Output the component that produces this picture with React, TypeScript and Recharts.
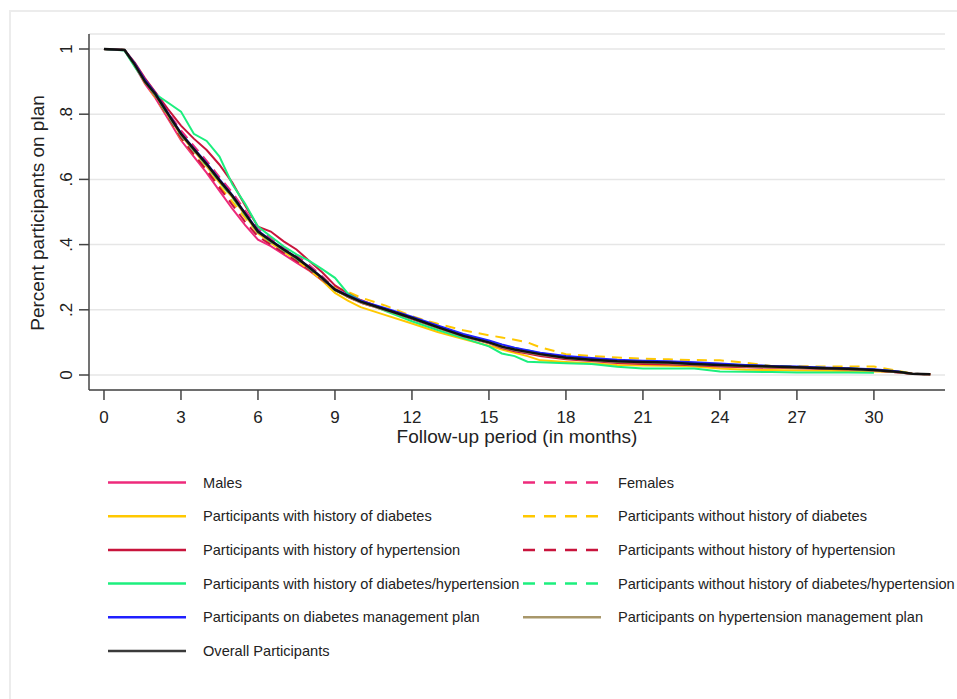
import React from "react";
import { LineChart, Line, XAxis, YAxis, CartesianGrid, Label } from "recharts";

// follow-up time (months)
const months = [0, 0.8, 1.2, 1.6, 2, 2.5, 3, 3.5, 4, 4.5, 5, 5.5, 6, 6.5, 7, 7.5, 8, 8.5, 9, 9.5, 10, 11, 12, 13, 14, 15, 15.5, 16, 16.5, 17, 18, 19, 20, 21, 22, 23, 24, 25, 26, 27, 28, 29, 30, 31, 31.5, 32.2];

const males = [1, 0.997, 0.948, 0.893, 0.85, 0.785, 0.72, 0.67, 0.62, 0.565, 0.51, 0.46, 0.415, 0.395, 0.37, 0.345, 0.32, 0.29, 0.262, 0.24, 0.222, 0.198, 0.172, 0.145, 0.118, 0.098, 0.086, 0.077, 0.07, 0.063, 0.052, 0.046, 0.041, 0.038, 0.036, 0.033, 0.03, 0.027, 0.025, 0.023, 0.02, 0.018, 0.014, 0.008, 0.004, 0.002];
const females = [1, 0.997, 0.955, 0.905, 0.866, 0.805, 0.75, 0.703, 0.657, 0.607, 0.56, 0.505, 0.448, 0.42, 0.392, 0.367, 0.337, 0.303, 0.265, 0.245, 0.227, 0.202, 0.177, 0.149, 0.122, 0.102, 0.089, 0.08, 0.073, 0.065, 0.054, 0.048, 0.043, 0.041, 0.039, 0.035, 0.032, 0.029, 0.027, 0.025, 0.022, 0.02, 0.016, 0.01, 0.004, 0.002];
const withDiabetes = [1, 0.997, 0.955, 0.902, 0.86, 0.795, 0.735, 0.688, 0.64, 0.59, 0.545, 0.49, 0.435, 0.405, 0.378, 0.352, 0.322, 0.29, 0.252, 0.228, 0.208, 0.183, 0.158, 0.132, 0.11, 0.09, 0.078, 0.068, 0.058, 0.045, 0.04, 0.036, 0.031, 0.029, 0.028, 0.026, 0.02, 0.016, 0.015, 0.014, 0.013, 0.012, 0.011, 0.009, 0.004, 0.002];
const withoutDiabetes = [1, 0.997, 0.95, 0.895, 0.852, 0.79, 0.725, 0.677, 0.63, 0.58, 0.532, 0.482, 0.435, 0.407, 0.382, 0.357, 0.327, 0.297, 0.27, 0.255, 0.238, 0.212, 0.18, 0.157, 0.137, 0.122, 0.115, 0.108, 0.1, 0.085, 0.064, 0.058, 0.054, 0.05, 0.048, 0.046, 0.045, 0.038, 0.028, 0.027, 0.026, 0.026, 0.026, 0.012, 0.004, null];
const withHyp = [1, 0.997, 0.958, 0.91, 0.868, 0.815, 0.765, 0.725, 0.69, 0.645, 0.59, 0.52, 0.455, 0.44, 0.41, 0.385, 0.35, 0.315, 0.275, 0.25, 0.23, 0.2, 0.172, 0.145, 0.12, 0.098, 0.083, 0.073, 0.066, 0.058, 0.048, 0.043, 0.037, 0.034, 0.032, 0.03, 0.026, 0.024, 0.022, 0.021, 0.019, 0.017, 0.014, 0.008, 0.003, 0.002];
const withoutHyp = [1, 0.997, 0.95, 0.897, 0.855, 0.79, 0.727, 0.677, 0.628, 0.575, 0.522, 0.47, 0.425, 0.4, 0.375, 0.35, 0.322, 0.292, 0.262, 0.24, 0.222, 0.198, 0.174, 0.147, 0.12, 0.1, 0.088, 0.079, 0.072, 0.064, 0.054, 0.048, 0.043, 0.039, 0.037, 0.034, 0.03, 0.027, 0.025, 0.023, 0.021, 0.019, 0.015, 0.009, 0.004, 0.002];
const withBoth = [1, 0.995, 0.945, 0.9, 0.862, 0.835, 0.808, 0.74, 0.718, 0.67, 0.585, 0.525, 0.455, 0.425, 0.395, 0.37, 0.35, 0.325, 0.298, 0.25, 0.228, 0.195, 0.165, 0.138, 0.113, 0.088, 0.066, 0.058, 0.041, 0.039, 0.036, 0.034, 0.025, 0.02, 0.02, 0.02, 0.011, 0.01, 0.009, 0.008, 0.008, 0.008, 0.007, null, null, null];
const withoutBoth = [1, 0.997, 0.953, 0.898, 0.858, 0.795, 0.735, 0.688, 0.642, 0.592, 0.545, 0.49, 0.437, 0.408, 0.382, 0.357, 0.327, 0.296, 0.26, 0.242, 0.225, 0.201, 0.177, 0.15, 0.124, 0.104, 0.092, 0.083, 0.076, 0.067, 0.056, 0.05, 0.045, 0.042, 0.04, 0.037, 0.033, 0.03, 0.028, 0.025, 0.022, 0.02, 0.017, 0.01, 0.004, 0.002];
const diabetesPlan = [1, 0.997, 0.955, 0.905, 0.865, 0.803, 0.742, 0.695, 0.65, 0.6, 0.552, 0.497, 0.443, 0.413, 0.386, 0.361, 0.331, 0.299, 0.263, 0.245, 0.228, 0.204, 0.179, 0.152, 0.126, 0.106, 0.094, 0.084, 0.076, 0.068, 0.058, 0.052, 0.047, 0.044, 0.042, 0.039, 0.035, 0.031, 0.028, 0.026, 0.023, 0.021, 0.018, 0.011, null, null];
const hypPlan = [1, 0.997, 0.95, 0.898, 0.86, 0.797, 0.737, 0.69, 0.644, 0.594, 0.547, 0.492, 0.438, 0.41, 0.383, 0.358, 0.328, 0.297, 0.26, 0.24, 0.222, 0.198, 0.173, 0.145, 0.118, 0.098, 0.085, 0.076, 0.069, 0.062, 0.051, 0.045, 0.04, 0.038, 0.036, 0.032, 0.029, 0.026, 0.024, 0.022, 0.02, 0.018, 0.014, 0.008, 0.003, 0.002];
const overall = [1, 0.997, 0.952, 0.9, 0.862, 0.8, 0.74, 0.693, 0.647, 0.597, 0.55, 0.495, 0.44, 0.412, 0.385, 0.36, 0.33, 0.298, 0.262, 0.243, 0.225, 0.2, 0.175, 0.147, 0.12, 0.1, 0.087, 0.078, 0.071, 0.064, 0.053, 0.047, 0.042, 0.04, 0.038, 0.034, 0.031, 0.028, 0.026, 0.024, 0.021, 0.019, 0.015, 0.009, 0.004, 0.002];

const xTicks = [0, 3, 6, 9, 12, 15, 18, 21, 24, 27, 30];
const yTicks = [0, 0.2, 0.4, 0.6, 0.8, 1];

const series = [
  { key: "males", name: "Males", values: males, color: "#ee2a7b", dashed: false, width: 2 },
  { key: "females", name: "Females", values: females, color: "#ee2a7b", dashed: true, width: 2 },
  { key: "withDiabetes", name: "Participants with history of diabetes", values: withDiabetes, color: "#ffc800", dashed: false, width: 2 },
  { key: "withoutDiabetes", name: "Participants without history of diabetes", values: withoutDiabetes, color: "#ffc800", dashed: true, width: 2 },
  { key: "withHyp", name: "Participants with history of hypertension", values: withHyp, color: "#c8143c", dashed: false, width: 2 },
  { key: "withoutHyp", name: "Participants without history of hypertension", values: withoutHyp, color: "#c8143c", dashed: true, width: 2 },
  { key: "withBoth", name: "Participants with history of diabetes/hypertension", values: withBoth, color: "#1cef7e", dashed: false, width: 2 },
  { key: "withoutBoth", name: "Participants without history of diabetes/hypertension", values: withoutBoth, color: "#1cef7e", dashed: true, width: 2 },
  { key: "diabetesPlan", name: "Participants on diabetes management plan", values: diabetesPlan, color: "#2020ff", dashed: false, width: 2 },
  { key: "hypPlan", name: "Participants on hypertension management plan", values: hypPlan, color: "#a8976a", dashed: false, width: 2 },
  { key: "overall", name: "Overall Participants", values: overall, color: "#111111", dashed: false, width: 2.5 },
];

const legendLeft = ["males", "withDiabetes", "withHyp", "withBoth", "diabetesPlan", "overall"];
const legendRight = ["females", "withoutDiabetes", "withoutHyp", "withoutBoth", "hypPlan"];

const font = "'Liberation Sans', Arial, sans-serif";

const fmtY = (v: number) => (v === 0 ? "0" : v === 1 ? "1" : "." + Math.round(v * 10));

const YTick = (props: any) => {
  const { x, y, payload } = props;
  return (
    <text x={x} y={y} transform={`rotate(-90 ${x} ${y})`} textAnchor="middle" fill="#222" fontSize={17} fontFamily={font}>
      {fmtY(payload.value)}
    </text>
  );
};

export default function App() {
  const rows = months.map((t, i) => {
    const r: any = { t };
    series.forEach((s) => (r[s.key] = s.values[i]));
    return r;
  });

  const legendItem = (key: string, i: number, lx: number, tx: number) => {
    const s = series.find((d) => d.key === key)!;
    const y = 482.5 + i * 33.7;
    return (
      <g key={key}>
        <line
          x1={lx}
          x2={lx + 78}
          y1={y}
          y2={y}
          stroke={key === "overall" ? "#3a3a3a" : s.color}
          strokeWidth={2.5}
          strokeDasharray={s.dashed ? "12 9" : undefined}
        />
        <text x={tx} y={y} dy="0.35em" fontSize={14.6} fill="#222" fontFamily={font}>
          {s.name}
        </text>
      </g>
    );
  };

  return (
    <div style={{ position: "absolute", left: 0, top: 0, width: 957, height: 699, background: "#fff", overflow: "hidden" }}>
      <div style={{ position: "absolute", left: 9, top: 10, width: 960, height: 700, border: "2px solid #ececec", boxSizing: "border-box" }} />
      <div style={{ position: "absolute", left: 0, top: 0 }}>
        <LineChart width={957} height={450} data={rows} margin={{ top: 34, right: 12, bottom: 0, left: 0 }}>
          <CartesianGrid vertical={false} stroke="#e6e6e6" strokeWidth={1.5} />
          <XAxis
            dataKey="t"
            type="number"
            domain={[-0.584, 32.77]}
            ticks={xTicks}
            interval={0}
            allowDataOverflow
            height={60}
            tickSize={10}
            tickMargin={11}
            stroke="#444"
            strokeWidth={1.5}
            tick={{ fill: "#222", fontSize: 17, fontFamily: font }}
          >
            <Label
              content={(p: any) => {
                const vb = p.viewBox;
                return (
                  <text x={vb.x + vb.width / 2} y={vb.y + 53} textAnchor="middle" fontSize={19} fill="#222" fontFamily={font}>
                    Follow-up period (in months)
                  </text>
                );
              }}
            />
          </XAxis>
          <YAxis
            type="number"
            domain={[-0.046, 1.046]}
            ticks={yTicks}
            interval={0}
            allowDataOverflow
            width={89}
            tickSize={10}
            tickMargin={7}
            stroke="#444"
            strokeWidth={1.5}
            tick={YTick}
          >
            <Label
              content={(p: any) => {
                const vb = p.viewBox;
                const cx = vb.x + 44;
                const cy = vb.y + vb.height / 2 + 1;
                return (
                  <text x={cx} y={cy} transform={`rotate(-90 ${cx} ${cy})`} textAnchor="middle" fontSize={19} fill="#222" fontFamily={font}>
                    Percent participants on plan
                  </text>
                );
              }}
            />
          </YAxis>
          {series.map((s) => (
            <Line
              key={s.key}
              dataKey={s.key}
              type="linear"
              stroke={s.color}
              strokeWidth={s.width}
              strokeDasharray={s.dashed ? "10 7" : undefined}
              dot={false}
              activeDot={false}
              isAnimationActive={false}
            />
          ))}
        </LineChart>
      </div>
      <svg width={957} height={699} style={{ position: "absolute", left: 0, top: 0, pointerEvents: "none" }}>
        {legendLeft.map((k, i) => legendItem(k, i, 108, 203))}
        {legendRight.map((k, i) => legendItem(k, i, 523, 618))}
      </svg>
    </div>
  );
}
